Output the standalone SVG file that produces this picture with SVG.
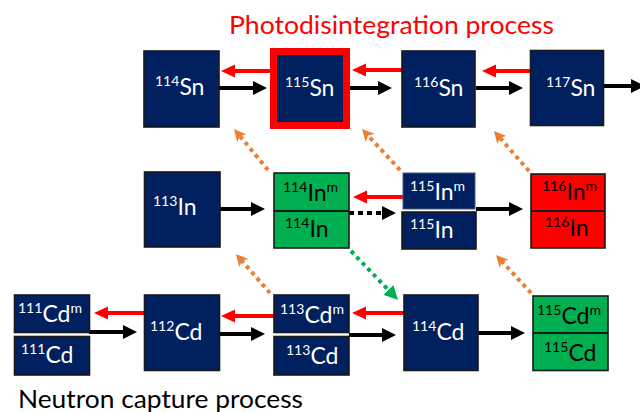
<svg xmlns="http://www.w3.org/2000/svg" width="640" height="412" viewBox="0 0 640 412">
<style>
.nv{fill:#002060;stroke:#1a1a1a;stroke-width:1.6}
.gr{fill:#00B050;stroke:#1a1a1a;stroke-width:1.6}
.rd{fill:#FF0000;stroke:#1a1a1a;stroke-width:1.6}
.t{font-family:Lato,"Liberation Sans",sans-serif;font-size:23px}
.w{fill:#fff}
.k{fill:#000}
.s{font-size:14px}
.bl{stroke:#000;stroke-width:4;fill:none}
.re{stroke:#FF0000;stroke-width:4;fill:none}
.or{stroke:#ED7D31;stroke-width:4;stroke-dasharray:4 4;fill:none}
.gd{stroke:#00B050;stroke-width:4;stroke-dasharray:4 4;fill:none}
.lbl{font-family:Lato,"Liberation Sans",sans-serif;font-size:25px}
</style>
<defs>
<marker id="hb" markerUnits="userSpaceOnUse" markerWidth="16" markerHeight="16" refX="4" refY="7" orient="auto"><path d="M0,0 L14,7 L0,14 z" fill="#000"/></marker>
<marker id="hr" markerUnits="userSpaceOnUse" markerWidth="16" markerHeight="16" refX="4" refY="6.5" orient="auto"><path d="M0,0 L14,6.5 L0,13 z" fill="#FF0000"/></marker>
<marker id="ho" markerUnits="userSpaceOnUse" markerWidth="14" markerHeight="14" refX="3" refY="6" orient="auto"><path d="M0,0 L12,6 L0,12 L3,6 z" fill="#ED7D31"/></marker>
<marker id="hg" markerUnits="userSpaceOnUse" markerWidth="16" markerHeight="16" refX="4" refY="7" orient="auto"><path d="M0,0 L14,7 L0,14 z" fill="#00B050"/></marker>
</defs>

<text class="lbl" x="229" y="34" fill="#FF0000" textLength="325" lengthAdjust="spacingAndGlyphs">Photodisintegration process</text>
<text class="lbl" x="18" y="408" fill="#000" textLength="285" lengthAdjust="spacingAndGlyphs">Neutron capture process</text>

<g id="connectors">
<line class="bl" x1="219" y1="88" x2="257" y2="88" marker-end="url(#hb)"/>
<line class="bl" x1="347" y1="88" x2="382" y2="88" marker-end="url(#hb)"/>
<line class="bl" x1="476" y1="88" x2="513" y2="88" marker-end="url(#hb)"/>
<line class="bl" x1="604" y1="86" x2="635" y2="86" marker-end="url(#hb)"/>
<line class="re" x1="270" y1="71" x2="231" y2="71" marker-end="url(#hr)"/>
<line class="re" x1="402" y1="70" x2="362" y2="70" marker-end="url(#hr)"/>
<line class="re" x1="530" y1="71" x2="492" y2="71" marker-end="url(#hr)"/>

<line class="bl" x1="216" y1="209" x2="255" y2="209" marker-end="url(#hb)"/>
<line class="bl" x1="349" y1="213" x2="386" y2="213" stroke-dasharray="5 4" marker-end="url(#hb)"/>
<line class="re" x1="403" y1="197" x2="363" y2="197" marker-end="url(#hr)"/>
<line class="bl" x1="476" y1="209" x2="513" y2="209" marker-end="url(#hb)"/>

<line class="bl" x1="89" y1="332" x2="127" y2="332" marker-end="url(#hb)"/>
<line class="re" x1="144" y1="313" x2="104" y2="313" marker-end="url(#hr)"/>
<line class="bl" x1="219" y1="334" x2="255" y2="334" marker-end="url(#hb)"/>
<line class="re" x1="274" y1="316" x2="231" y2="316" marker-end="url(#hr)"/>
<line class="bl" x1="349" y1="335" x2="386" y2="335" marker-end="url(#hb)"/>
<line class="re" x1="404" y1="313" x2="362" y2="313" marker-end="url(#hr)"/>
<line class="bl" x1="478" y1="333" x2="515" y2="333" marker-end="url(#hb)"/>

<line class="or" x1="268" y1="170" x2="239.8" y2="135.9" marker-end="url(#ho)"/>
<line class="or" x1="400" y1="170" x2="368.1" y2="135.6" marker-end="url(#ho)"/>
<line class="or" x1="529" y1="171" x2="499.9" y2="137.8" marker-end="url(#ho)"/>
<line class="or" x1="270" y1="293" x2="241.9" y2="260.8" marker-end="url(#ho)"/>
<line class="or" x1="531" y1="293" x2="502.1" y2="261.6" marker-end="url(#ho)"/>
<line class="gd" x1="351" y1="251" x2="391.1" y2="292.8" marker-end="url(#hg)"/>
</g>

<g id="Sn114"><rect class="nv" x="144" y="51" width="75" height="76"/>
<text class="t w" x="155" y="95"><tspan class="s" dy="-9">114</tspan><tspan dy="9">Sn</tspan></text></g>
<g id="Sn115"><rect x="273.5" y="51.5" width="73" height="74" fill="#002060" stroke="#FF0000" stroke-width="7"/>
<text class="t w" x="285" y="96"><tspan class="s" dy="-9">115</tspan><tspan dy="9">Sn</tspan></text></g>
<g id="Sn116"><rect class="nv" x="402" y="51" width="73" height="76"/>
<text class="t w" x="414" y="96"><tspan class="s" dy="-9">116</tspan><tspan dy="9">Sn</tspan></text></g>
<g id="Sn117"><rect class="nv" x="530.5" y="50.5" width="73" height="75"/>
<text class="t w" x="546" y="96"><tspan class="s" dy="-9">117</tspan><tspan dy="9">Sn</tspan></text></g>

<g id="In113"><rect class="nv" x="144.5" y="172" width="75.5" height="75"/>
<text class="t w" x="153" y="215"><tspan class="s" dy="-9">113</tspan><tspan dy="9">In</tspan></text></g>
<g id="In114"><rect class="gr" x="274" y="173" width="75" height="75"/><line x1="274" y1="211" x2="349" y2="211" stroke="#1a1a1a" stroke-width="2"/>
<text class="t k" x="283" y="201"><tspan class="s" dy="-9">114</tspan><tspan dy="9">In</tspan><tspan class="s" dy="-9">m</tspan></text>
<text class="t k" x="285" y="237"><tspan class="s" dy="-9">114</tspan><tspan dy="9">In</tspan></text></g>
<g id="In115"><rect x="403" y="173" width="72" height="36" fill="#002060" stroke="#4a5a7a" stroke-width="1"/><rect class="nv" x="402" y="212" width="74" height="37"/>
<text class="t w" x="410" y="200"><tspan class="s" dy="-9">115</tspan><tspan dy="9">In</tspan><tspan class="s" dy="-9">m</tspan></text>
<text class="t w" x="410" y="238"><tspan class="s" dy="-9">115</tspan><tspan dy="9">In</tspan></text></g>
<g id="In116"><rect class="rd" x="531" y="174" width="74" height="74"/><line x1="531" y1="211" x2="605" y2="211" stroke="#1a1a1a" stroke-width="2"/>
<text class="t k" x="542" y="200"><tspan class="s" dy="-9">116</tspan><tspan dy="9">In</tspan><tspan class="s" dy="-9">m</tspan></text>
<text class="t k" x="545" y="236"><tspan class="s" dy="-9">116</tspan><tspan dy="9">In</tspan></text></g>

<g id="Cd111"><rect class="nv" x="14.5" y="295" width="75" height="37.5"/><rect class="nv" x="14.5" y="336.5" width="75" height="38.5"/>
<text class="t w" x="18" y="322"><tspan class="s" dy="-9">111</tspan><tspan dy="9">Cd</tspan><tspan class="s" dy="-9">m</tspan></text>
<text class="t w" x="21" y="363"><tspan class="s" dy="-9">111</tspan><tspan dy="9">Cd</tspan></text></g>
<g id="Cd112"><rect class="nv" x="144.5" y="295" width="75" height="75.5"/>
<text class="t w" x="150" y="340"><tspan class="s" dy="-9">112</tspan><tspan dy="9">Cd</tspan></text></g>
<g id="Cd113"><rect class="nv" x="274" y="295" width="75" height="37.5"/><rect class="nv" x="274" y="336.5" width="75" height="38.5"/>
<text class="t w" x="280" y="323"><tspan class="s" dy="-9">113</tspan><tspan dy="9">Cd</tspan><tspan class="s" dy="-9">m</tspan></text>
<text class="t w" x="286" y="364"><tspan class="s" dy="-9">113</tspan><tspan dy="9">Cd</tspan></text></g>
<g id="Cd114"><rect class="nv" x="404" y="295" width="74" height="75.5"/>
<text class="t w" x="412" y="340"><tspan class="s" dy="-9">114</tspan><tspan dy="9">Cd</tspan></text></g>
<g id="Cd115"><rect class="gr" x="533" y="296" width="75" height="74.5"/><line x1="533" y1="333" x2="608" y2="333" stroke="#1a1a1a" stroke-width="2"/>
<text class="t k" x="537" y="324"><tspan class="s" dy="-9">115</tspan><tspan dy="9">Cd</tspan><tspan class="s" dy="-9">m</tspan></text>
<text class="t k" x="544" y="361"><tspan class="s" dy="-9">115</tspan><tspan dy="9">Cd</tspan></text></g>
</svg>
